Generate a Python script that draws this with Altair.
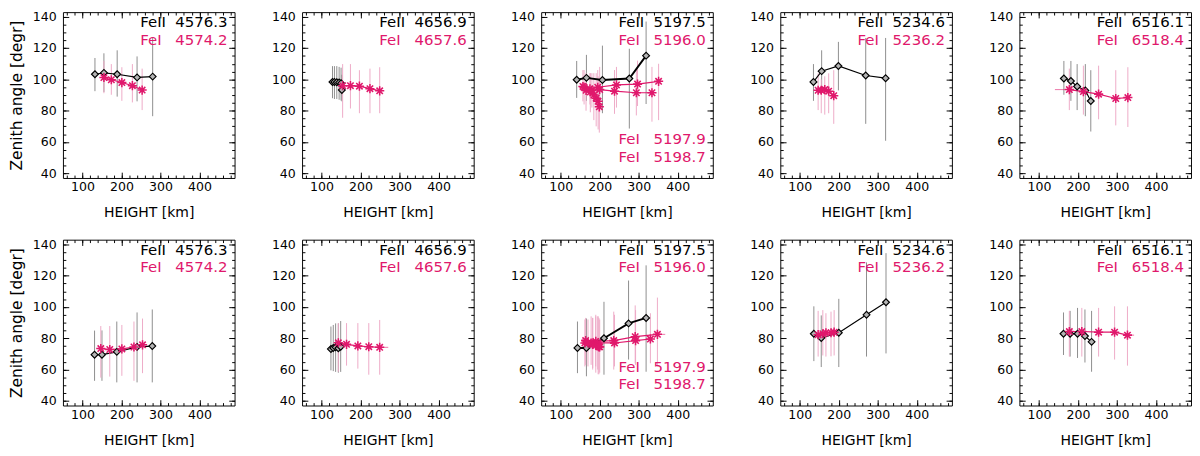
import altair as alt
import pandas as pd

FONT = "DejaVu Sans"
PINK = "#E0186C"
PINK_BAR = "#EDA9C6"
GRAY_BAR = "#8A8A8A"
DIAMOND_FILL = "#B4B4B4"
ASTERISK = "M-1,0L1,0M0,-1L0,1M-0.7,-0.7L0.7,0.7M-0.7,0.7L0.7,-0.7"

W, H = 178, 172
X_DOM = [50, 490]
Y_DOM = [37, 143]
X_MAJ = [100, 200, 300, 400]
Y_MAJ = [40, 60, 80, 100, 120, 140]
X_MIN = list(range(60, 481, 20))
Y_MIN = list(range(40, 141, 5))

# ---------------- row 1 ----------------
# FeII 4576.3 / FeI 4574.2
p1_k_h = [132, 155, 189, 240, 280]
p1_k_z = [103.3, 104.2, 103.3, 101.3, 101.8]
p1_k_lo = [92.5, 92.0, 89.0, 86.0, 76.5]
p1_k_hi = [113.7, 116.7, 118.6, 114.7, 126.5]
p1_p_h = [155, 174, 201, 228, 253]
p1_p_z = [101.2, 99.8, 98.0, 96.0, 93.2]
p1_p_lo = [91.2, 90.2, 86.3, 85.3, 80.4]
p1_p_hi = [111.8, 109.8, 107.8, 109.8, 106.9]

# FeII 4656.9 / FeI 4657.6
p2_k_h = [128, 133, 139, 145, 150, 152]
p2_k_z = [98.4, 98.4, 98.2, 98.0, 97.5, 93.3]
p2_k_lo = [88.0, 87.5, 87.5, 87.0, 86.5, 86.0]
p2_k_hi = [108.5, 108.5, 108.5, 108.0, 107.5, 103.0]
p2_p_h = [154, 174, 197, 224, 249]
p2_p_z = [96.0, 96.0, 95.7, 94.1, 92.7]
p2_p_lo = [75.5, 81.4, 78.4, 78.4, 78.4]
p2_p_hi = [109.8, 109.8, 105.9, 106.9, 107.8]

# FeII 5197.5 / FeI 5196.0, 5197.9, 5198.7
p3_k_h = [141, 166, 207, 276, 319]
p3_k_z = [99.8, 101.0, 99.6, 100.6, 115.2]
p3_k_lo = [88.2, 86.3, 78.4, 68.6, 84.3]
p3_k_hi = [111.8, 115.7, 121.6, 119.6, 137.0]
p3_a_h = [157, 175, 195, 243, 297, 351]
p3_a_z = [95.5, 94.0, 95.0, 96.5, 97.0, 98.8]
p3_a_lo = [86, 84, 83, 82, 83, 74]
p3_a_hi = [106, 104, 106, 108, 112, 110]
p3_b_h = [160, 180, 200, 238, 294, 334]
p3_b_z = [95.0, 93.0, 93.5, 92.5, 91.5, 91.5]
p3_b_lo = [84, 82, 79, 78, 77, 73]
p3_b_hi = [106, 104, 108, 106, 106, 108]
p3_c_h = [165, 176, 185, 191, 196, 199]
p3_c_z = [93.0, 92.0, 90.0, 88.0, 86.0, 82.5]
p3_c_lo = [80, 79, 74, 70, 68, 66]
p3_c_hi = [104, 104, 104, 104, 102, 100]

# FeII 5234.6 / FeI 5236.2
p4_k_h = [135, 156, 199, 269, 320]
p4_k_z = [98.4, 105.3, 108.6, 102.5, 100.8]
p4_k_lo = [86.3, 92.2, 93.0, 71.6, 60.8]
p4_k_hi = [109.8, 118.6, 124.0, 126.5, 126.5]
p4_p_h = [147, 155, 164, 174, 187]
p4_p_z = [93.1, 93.1, 93.5, 92.5, 89.6]
p4_p_lo = [80.4, 78.4, 77.5, 78.4, 71.6]
p4_p_hi = [103.9, 100.0, 102.0, 103.9, 105.9]

# FeII 6516.1 / FeI 6518.4
p5_k_h = [164, 182, 198, 219, 233]
p5_k_z = [100.6, 99.0, 95.5, 93.0, 86.2]
p5_k_lo = [90.2, 86.3, 80.4, 76.5, 66.7]
p5_k_hi = [111.8, 111.8, 109.8, 109.8, 105.9]
p5_p_h = [178, 214, 253, 297, 328]
p5_p_z = [93.5, 92.2, 90.6, 87.8, 88.4]
p5_p_lo = [80.4, 77.5, 74.5, 70.6, 69.6]
p5_p_hi = [106.9, 108.8, 108.8, 105.9, 107.8]
p5_xbar = [141, 178, 93.5]

# ---------------- row 2 ----------------
p6_k_h = [131, 150, 188, 240, 279]
p6_k_z = [69.5, 69.5, 71.3, 74.5, 75.0]
p6_k_lo = [52.8, 52.8, 51.8, 51.8, 51.8]
p6_k_hi = [84.9, 85.0, 90.7, 96.5, 98.4]
p6_p_h = [147, 170, 201, 232, 254]
p6_p_z = [73.4, 72.8, 73.2, 74.4, 75.8]
p6_p_lo = [54.8, 55.5, 56.0, 52.8, 57.7]
p6_p_hi = [87.8, 87.8, 88.5, 90.7, 92.6]

p7_k_h = [124, 130, 136, 143, 149]
p7_k_z = [73.2, 73.8, 74.2, 73.6, 74.6]
p7_k_lo = [59.5, 59.0, 58.5, 58.0, 58.5]
p7_k_hi = [87.5, 88.5, 89.5, 89.5, 91.0]
p7_p_h = [143, 164, 193, 221, 249]
p7_p_z = [77.1, 76.1, 75.1, 74.6, 74.2]
p7_p_lo = [58.6, 62.5, 60.6, 56.7, 56.7]
p7_p_hi = [89.7, 89.7, 89.7, 89.7, 91.7]
p7_xbar = [249, 271, 74.2]

p8_k_h = [143, 166, 211, 274, 319]
p8_k_z = [73.8, 73.8, 80.0, 89.5, 93.0]
p8_k_lo = [57.7, 55.7, 56.7, 66.4, 58.6]
p8_k_hi = [90.7, 92.6, 103.3, 116.9, 126.6]
p8_a_h = [162, 178, 190, 236, 291, 348]
p8_a_z = [77.0, 77.0, 78.0, 78.5, 81.0, 82.5]
p8_a_lo = [62, 63, 62, 60, 64, 62]
p8_a_hi = [92, 94, 95, 97, 101, 106]
p8_b_h = [164, 182, 195, 238, 292, 330]
p8_b_z = [78.5, 76.5, 77.0, 77.0, 78.5, 79.5]
p8_b_lo = [63, 61, 60, 62, 63, 64]
p8_b_hi = [93, 93, 94, 95, 98, 96]
p8_c_h = [170, 182, 190, 196, 198, 200]
p8_c_z = [77.0, 76.0, 75.5, 75.0, 74.5, 74.5]
p8_c_lo = [62, 60, 58, 57, 57, 58]
p8_c_hi = [92, 93, 94, 94, 93, 92]
p8_xbar = [348, 368, 82.5]

p9_k_h = [136, 155, 200, 271, 321]
p9_k_z = [82.9, 80.2, 83.5, 95.0, 103.0]
p9_k_lo = [65.4, 61.6, 61.6, 68.3, 70.3]
p9_k_hi = [100.4, 94.6, 105.2, 128.5, 134.4]
p9_p_h = [147, 159, 167, 180, 188]
p9_p_z = [82.3, 82.9, 83.5, 83.5, 83.9]
p9_p_lo = [68.3, 69.0, 68.3, 68.5, 69.0]
p9_p_hi = [97.5, 98.0, 96.0, 97.0, 98.0]

p10_k_h = [163, 180, 199, 218, 235]
p10_k_z = [82.9, 82.9, 82.9, 81.4, 77.7]
p10_k_lo = [69.3, 68.3, 67.4, 64.5, 58.6]
p10_k_hi = [96.5, 97.5, 99.4, 98.4, 97.5]
p10_p_h = [178, 210, 253, 294, 327]
p10_p_z = [84.3, 84.3, 83.9, 83.9, 82.0]
p10_p_lo = [68.3, 68.3, 68.3, 66.4, 62.5]
p10_p_hi = [97.5, 99.4, 99.4, 100.4, 100.4]
p10_xbar = [327, 344, 82.0]

# line labels: (name, wavelength) for the black line and the pink line(s)
lab_4576 = [("FeII", "4576.3"), ("FeI", "4574.2")]
lab_4656 = [("FeII", "4656.9"), ("FeI", "4657.6")]
lab_5197 = [("FeII", "5197.5"), ("FeI", "5196.0"), ("FeI", "5197.9"), ("FeI", "5198.7")]
lab_5234 = [("FeII", "5234.6"), ("FeI", "5236.2")]
lab_6516 = [("FeII", "6516.1"), ("FeI", "6518.4")]
lab_y = [136.3, 125.3, 61.5, 50.5]

panels = [
    dict(k=(p1_k_h, p1_k_z, p1_k_lo, p1_k_hi), p=[(p1_p_h, p1_p_z, p1_p_lo, p1_p_hi)], lab=lab_4576),
    dict(k=(p2_k_h, p2_k_z, p2_k_lo, p2_k_hi), p=[(p2_p_h, p2_p_z, p2_p_lo, p2_p_hi)], lab=lab_4656),
    dict(k=(p3_k_h, p3_k_z, p3_k_lo, p3_k_hi),
         p=[(p3_a_h, p3_a_z, p3_a_lo, p3_a_hi), (p3_b_h, p3_b_z, p3_b_lo, p3_b_hi),
            (p3_c_h, p3_c_z, p3_c_lo, p3_c_hi)], lab=lab_5197, lw=2),
    dict(k=(p4_k_h, p4_k_z, p4_k_lo, p4_k_hi), p=[(p4_p_h, p4_p_z, p4_p_lo, p4_p_hi)], lab=lab_5234),
    dict(k=(p5_k_h, p5_k_z, p5_k_lo, p5_k_hi), p=[(p5_p_h, p5_p_z, p5_p_lo, p5_p_hi)], lab=lab_6516,
         xbar=p5_xbar),
    dict(k=(p6_k_h, p6_k_z, p6_k_lo, p6_k_hi), p=[(p6_p_h, p6_p_z, p6_p_lo, p6_p_hi)], lab=lab_4576),
    dict(k=(p7_k_h, p7_k_z, p7_k_lo, p7_k_hi), p=[(p7_p_h, p7_p_z, p7_p_lo, p7_p_hi)], lab=lab_4656,
         xbar=p7_xbar),
    dict(k=(p8_k_h, p8_k_z, p8_k_lo, p8_k_hi),
         p=[(p8_a_h, p8_a_z, p8_a_lo, p8_a_hi), (p8_b_h, p8_b_z, p8_b_lo, p8_b_hi),
            (p8_c_h, p8_c_z, p8_c_lo, p8_c_hi)], lab=lab_5197, lw=2, xbar=p8_xbar),
    dict(k=(p9_k_h, p9_k_z, p9_k_lo, p9_k_hi), p=[(p9_p_h, p9_p_z, p9_p_lo, p9_p_hi)], lab=lab_5234),
    dict(k=(p10_k_h, p10_k_z, p10_k_lo, p10_k_hi), p=[(p10_p_h, p10_p_z, p10_p_lo, p10_p_hi)],
         lab=lab_6516, xbar=p10_xbar),
]

xs = alt.Scale(domain=X_DOM, nice=False, zero=False)
ys = alt.Scale(domain=Y_DOM, nice=False, zero=False)


def tick_axis(orient, values, size, offset):
    # tick-only axis pushed onto the opposite edge so the ticks point inwards
    return alt.Axis(orient=orient, offset=offset, values=values, tickSize=size, tickColor="black",
                    tickWidth=1, labels=False, domain=False, grid=False, title=None)


def series_df(h, z, lo, hi, s=0):
    return pd.DataFrame({"h": h, "z": z, "lo": lo, "hi": hi, "s": s, "i": range(len(h))})


def panel(spec, first):
    black = series_df(*spec["k"])
    pink = pd.concat([series_df(*ser, s=n) for n, ser in enumerate(spec["p"])], ignore_index=True)

    x_lab = alt.Axis(orient="bottom", values=X_MAJ, ticks=False, domain=False, grid=False,
                     labelPadding=3, title="HEIGHT [km]", titlePadding=13, titleFontSize=14.5)
    y_lab = alt.Axis(orient="left", values=Y_MAJ, ticks=False, domain=False, grid=False,
                     labelPadding=7, title="Zenith angle [degr]" if first else None,
                     titlePadding=8, titleFontSize=16)

    k_err = alt.Chart(black).mark_rule(color=GRAY_BAR, strokeWidth=1).encode(
        x=alt.X("h:Q", scale=xs, axis=x_lab),
        y=alt.Y("lo:Q", scale=ys, axis=y_lab),
        y2="hi:Q",
    )
    p_err = alt.Chart(pink).mark_rule(color=PINK_BAR, strokeWidth=1).encode(
        x=alt.X("h:Q", scale=xs, axis=tick_axis("top", X_MAJ, 6, -H)),
        y=alt.Y("lo:Q", scale=ys, axis=tick_axis("right", Y_MAJ, 6, -W)),
        y2="hi:Q",
    )
    k_line = alt.Chart(black).mark_line(color="black", strokeWidth=spec.get("lw", 1.2)).encode(
        x=alt.X("h:Q", scale=xs, axis=tick_axis("bottom", X_MAJ, 6, -H)),
        y=alt.Y("z:Q", scale=ys, axis=tick_axis("left", Y_MAJ, 6, -W)),
        order="i:Q",
    )
    p_line = alt.Chart(pink).mark_line(color=PINK, strokeWidth=1.2).encode(
        x=alt.X("h:Q", scale=xs, axis=tick_axis("top", X_MIN, 3, -H)),
        y=alt.Y("z:Q", scale=ys, axis=tick_axis("right", Y_MIN, 3, -W)),
        detail="s:N",
        order="i:Q",
    )
    k_pts = alt.Chart(black).mark_point(shape="diamond", size=50, filled=True, fill=DIAMOND_FILL,
                                        stroke="black", strokeWidth=1.2, opacity=1).encode(
        x=alt.X("h:Q", scale=xs, axis=tick_axis("bottom", X_MIN, 3, -H)),
        y=alt.Y("z:Q", scale=ys, axis=tick_axis("left", Y_MIN, 3, -W)),
    )
    p_pts = alt.Chart(pink).mark_point(shape=ASTERISK, size=90, filled=False, color=PINK,
                                       strokeWidth=1.6, opacity=1).encode(
        x=alt.X("h:Q", scale=xs, axis=None),
        y=alt.Y("z:Q", scale=ys, axis=None),
    )

    layers = [k_err, p_err, k_line, p_line, k_pts, p_pts]

    if "xbar" in spec:
        xb = pd.DataFrame({"x1": [spec["xbar"][0]], "x2": [spec["xbar"][1]], "z": [spec["xbar"][2]]})
        layers.insert(4, alt.Chart(xb).mark_rule(color=PINK, strokeWidth=1, opacity=0.6).encode(
            x=alt.X("x1:Q", scale=xs, axis=None),
            x2="x2:Q",
            y=alt.Y("z:Q", scale=ys, axis=None),
        ))

    labs = pd.DataFrame({
        "name": [n for n, _ in spec["lab"]],
        "wl": [w for _, w in spec["lab"]],
        "y": lab_y[:len(spec["lab"])],
        "c": ["black"] + [PINK] * (len(spec["lab"]) - 1),
        "xn": 248,
        "xw": 472,
    })
    names = alt.Chart(labs).mark_text(align="left", baseline="middle", font=FONT, fontSize=15.5).encode(
        x=alt.X("xn:Q", scale=xs, axis=None),
        y=alt.Y("y:Q", scale=ys, axis=None),
        text="name:N",
        color=alt.Color("c:N", scale=None),
    )
    wls = alt.Chart(labs).mark_text(align="right", baseline="middle", font=FONT, fontSize=15.5).encode(
        x=alt.X("xw:Q", scale=xs, axis=None),
        y=alt.Y("y:Q", scale=ys, axis=None),
        text="wl:N",
        color=alt.Color("c:N", scale=None),
    )
    layers += [names, wls]

    return alt.layer(*layers).resolve_axis(x="independent", y="independent").properties(
        width=W, height=H)


charts = [panel(spec, n % 5 == 0) for n, spec in enumerate(panels)]
row1 = alt.hconcat(*charts[:5], spacing=36)
row2 = alt.hconcat(*charts[5:], spacing=36)

chart = alt.vconcat(row1, row2, spacing=19).properties(
    padding={"left": 0, "top": -6, "right": 0, "bottom": 0}
).configure_view(
    stroke="black", strokeWidth=1
).configure_axis(
    labelFont=FONT, labelFontSize=13, labelColor="black",
    titleFont=FONT, titleFontSize=14, titleFontWeight="normal", titleColor="black",
)

chart.save("out.html", embed_options={"renderer": "svg", "actions": False})
